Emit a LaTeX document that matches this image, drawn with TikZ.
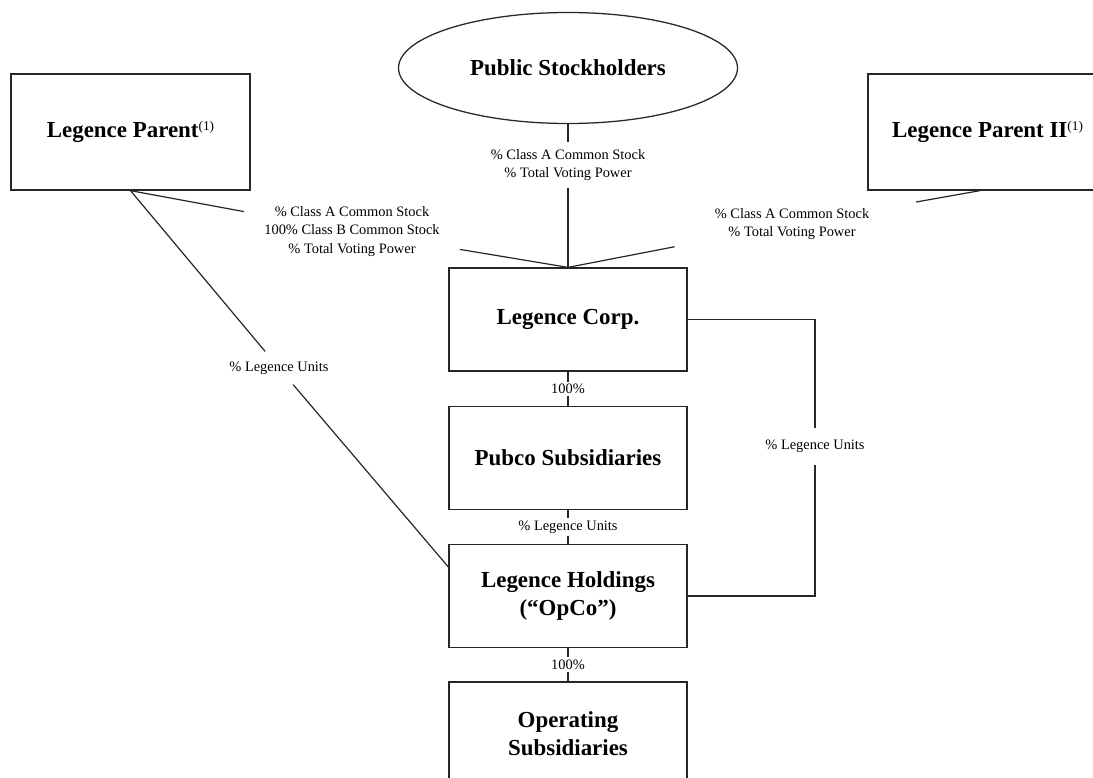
\documentclass[tikz,border=0pt]{standalone}
\usepackage{fontspec}
\setmainfont{Liberation Serif}
\usepackage{tikz}
\usetikzlibrary{shapes.geometric}

\newcommand{\parentnote}{\raisebox{5pt}{\fontsize{10}{10}\selectfont\mdseries(1)}}

\begin{document}
\begin{tikzpicture}[x=0.75pt,y=0.75pt,yscale=-1,xscale=1,
  entity/.style={draw=black!85,line width=0.95pt,minimum width=178.5pt,minimum height=77.25pt,inner sep=0pt,align=center,font=\fontsize{17.2}{21}\selectfont\bfseries},
  owner/.style={entity,minimum width=179.25pt,minimum height=87pt},
  share/.style={inner xsep=0pt,inner ysep=1.5pt,align=center,font=\fontsize{10.8}{13.9}\selectfont},
  link/.style={draw=black!85,line width=0.9pt}]

\useasboundingbox (0,0) rectangle (1093,778);

\draw (568,68) node (pub) [entity,ellipse,minimum width=254.25pt,minimum height=83.25pt] {Public Stockholders};

\draw (130.5,132) node (lp) [owner] {Legence Parent\parentnote};

\draw (987.5,132) node (lp2) [owner] {Legence Parent II\parentnote};

\draw (568,319.5) node (corp) [entity] {Legence Corp.};

\draw (568,458) node (pubco) [entity] {Pubco Subsidiaries};

\draw (568,596) node (hold) [entity] {Legence Holdings\\(“OpCo”)};

\draw (568,733.5) node (opsub) [entity] {Operating\\Subsidiaries};


\draw (568,165) node (pubshare) [share,inner ysep=5.4pt] {\% Class A Common Stock\\\% Total Voting Power};

\draw (352,231.5) node (lpshare) [share,inner xsep=15pt,inner ysep=3pt] {\% Class A Common Stock\\100\% Class B Common Stock\\\% Total Voting Power};

\draw (792,224) node (lptwoshare) [share,inner xsep=35pt,inner ysep=5pt] {\% Class A Common Stock\\\% Total Voting Power};

\draw (279,368) node (lpunits) [share,inner ysep=7.5pt] {\% Legence Units};

\draw (815,446.5) node (corpunits) [share,inner ysep=9pt] {\% Legence Units};

\draw (568,389) node (pctpubco) [share] {100\%};

\draw (568,527) node (pubunits) [share] {\% Legence Units};

\draw (568,664.5) node (pctops) [share] {100\%};


\draw [link] (pub) -- (pubshare) (pubshare) -- (corp);

\draw [link] (lp.south) -- (lpshare) (lpshare) -- (corp.north);

\draw [link] ([xshift=-5.6pt]lp2.south) -- (lptwoshare) (lptwoshare) -- (corp.north);

\draw [link] (lp.south) -- (lpunits) (lpunits) -- ([yshift=-21.75pt]hold.west);

\draw [link] (corp.east) -| (corpunits) (corpunits) |- (hold.east);

\draw [link] (corp) -- (pctpubco) (pctpubco) -- (pubco);

\draw [link] (pubco) -- (pubunits) (pubunits) -- (hold);

\draw [link] (hold) -- (pctops) (pctops) -- (opsub);

\end{tikzpicture}
\end{document}
